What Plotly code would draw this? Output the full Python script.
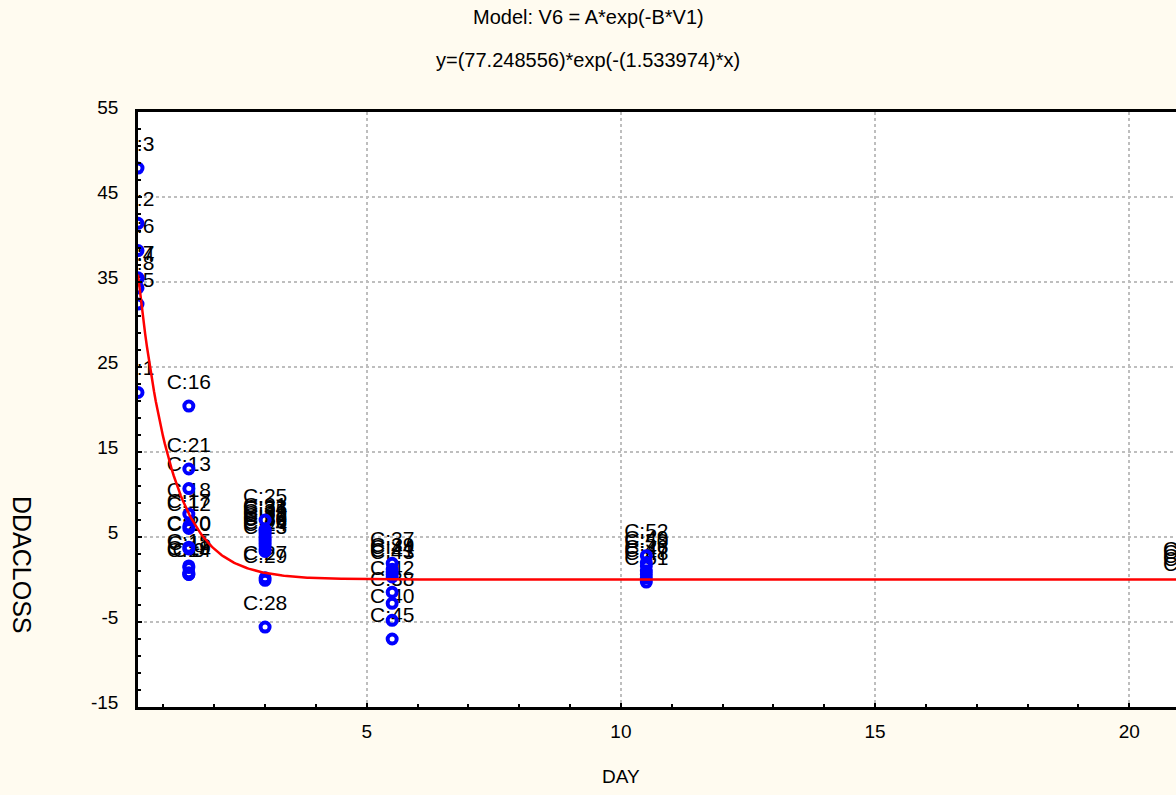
import numpy as np
import plotly.graph_objects as go

# ---- data ----
CASE = ["C:1", "C:2", "C:3", "C:4", "C:5", "C:6", "C:7", "C:8",
        "C:9", "C:10", "C:11", "C:12", "C:13", "C:14", "C:15", "C:16", "C:17", "C:18", "C:19", "C:20", "C:21",
        "C:22", "C:23", "C:24", "C:25", "C:26", "C:27", "C:28", "C:29", "C:30", "C:31", "C:32", "C:33", "C:34", "C:35", "C:36",
        "C:37", "C:38", "C:39", "C:40", "C:41", "C:42", "C:43", "C:44", "C:45",
        "C:46", "C:47", "C:48", "C:49", "C:50", "C:51", "C:52",
        "C:53", "C:54", "C:55", "C:56", "C:57"]
DAY = [0.5] * 8 + [1.5] * 13 + [3.0] * 15 + [5.5] * 9 + [10.5] * 7 + [21.1] * 5
DDACLOSS = [22.0, 41.9, 48.4, 35.4, 32.4, 38.7, 35.5, 34.3,
            0.6, 3.6, 1.4, 6.0, 10.7, 0.6, 1.6, 20.4, 6.3, 7.7, 0.8, 3.8, 13.0,
            4.7, 3.3, 3.6, 7.0, 3.9, 0.2, -5.6, -0.1, 4.4, 5.9, 4.9, 5.7, 5.5, 5.2, 4.2,
            1.9, -2.8, 1.2, -4.8, 0.6, -1.5, 0.3, 0.9, -7.0,
            1.0, 0.6, 0.2, 2.0, 1.6, -0.3, 2.8,
            0.7, 0.3, -0.1, -0.5, -1.0]

# fitted model printed in the title: y = A*exp(-B*x)
A_FIT = 77.248556
B_FIT = 1.533974
CURVE_X = np.linspace(0.5, 21.5, 600)
CURVE_Y = A_FIT * np.exp(-B_FIT * CURVE_X)

X_RANGE = [0.5, 20.92]
Y_RANGE = [-15, 55]
Y_TICKS = [-15, -5, 5, 15, 25, 35, 45, 55]
X_TICKS = [5, 10, 15, 20]

FONT = "Arial, Liberation Sans, sans-serif"

# layout geometry in pixels
W, H = 1176, 795
L, R, T, B = 138, 0, 112, 88
PW, PH = W - L - R, H - T - B


def px_x(p):
    return (p - L) / PW


def px_y(p):
    return (H - B - p) / PH


fig = go.Figure()

# point labels (transparent marker used only to lift the text above the point)
fig.add_trace(go.Scatter(
    x=DAY, y=DDACLOSS, mode="markers+text", text=CASE,
    textposition="top center",
    textfont=dict(family=FONT, size=21, color="black"),
    marker=dict(size=18, color="rgba(0,0,0,0)"),
    cliponaxis=True, hoverinfo="skip", showlegend=False))

# observed points
fig.add_trace(go.Scatter(
    x=DAY, y=DDACLOSS, mode="markers",
    marker=dict(symbol="circle-open", size=9, color="#0000FF",
                line=dict(color="#0000FF", width=4)),
    cliponaxis=True, showlegend=False))

# fitted curve
fig.add_trace(go.Scatter(
    x=CURVE_X, y=CURVE_Y, mode="lines",
    line=dict(color="#FF0000", width=2.5),
    cliponaxis=True, showlegend=False))

fig.update_layout(
    width=W, height=H,
    margin=dict(l=L, r=R, t=T, b=B),
    paper_bgcolor="#FFFBF0", plot_bgcolor="white",
    font=dict(family=FONT, size=19, color="black"),
    showlegend=False,
    annotations=[
        dict(text="Model: V6 = A*exp(-B*V1)", x=px_x(588), y=px_y(17), xref="paper", yref="paper",
             showarrow=False, xanchor="center", yanchor="middle", font=dict(size=20)),
        dict(text="y=(77.248556)*exp(-(1.533974)*x)", x=px_x(588), y=px_y(60), xref="paper", yref="paper",
             showarrow=False, xanchor="center", yanchor="middle", font=dict(size=20)),
        dict(text="DAY", x=px_x(621), y=px_y(776), xref="paper", yref="paper",
             showarrow=False, xanchor="center", yanchor="middle", font=dict(size=19)),
        dict(text="DDACLOSS", x=px_x(22), y=px_y(565), xref="paper", yref="paper",
             showarrow=False, xanchor="center", yanchor="middle", textangle=90, font=dict(size=25)),
    ],
)

fig.update_xaxes(
    range=X_RANGE, tickvals=X_TICKS, ticktext=[str(v) for v in X_TICKS],
    showline=True, linecolor="black", linewidth=2.5, mirror=True,
    ticks="inside", ticklen=4, tickcolor="black", tickwidth=2,
    ticklabelstandoff=5,
    showgrid=True, gridcolor="#BEBEBE", gridwidth=2, griddash="dot",
    zeroline=False,
    minor=dict(dtick=1, tick0=0, ticks="inside", ticklen=3, tickcolor="black", tickwidth=2, showgrid=False),
)
fig.update_yaxes(
    range=Y_RANGE, tickvals=Y_TICKS, ticktext=[str(v) for v in Y_TICKS],
    showline=True, linecolor="black", linewidth=2.5, mirror=False,
    ticks="inside", ticklen=4, tickcolor="black", tickwidth=2,
    ticklabelstandoff=13, ticklabelshift=-5,
    showgrid=True, gridcolor="#BEBEBE", gridwidth=2, griddash="dot",
    zeroline=False,
    minor=dict(dtick=2, tick0=-15, ticks="inside", ticklen=3, tickcolor="black", tickwidth=2, showgrid=False),
)

fig.write_html("out.html")
